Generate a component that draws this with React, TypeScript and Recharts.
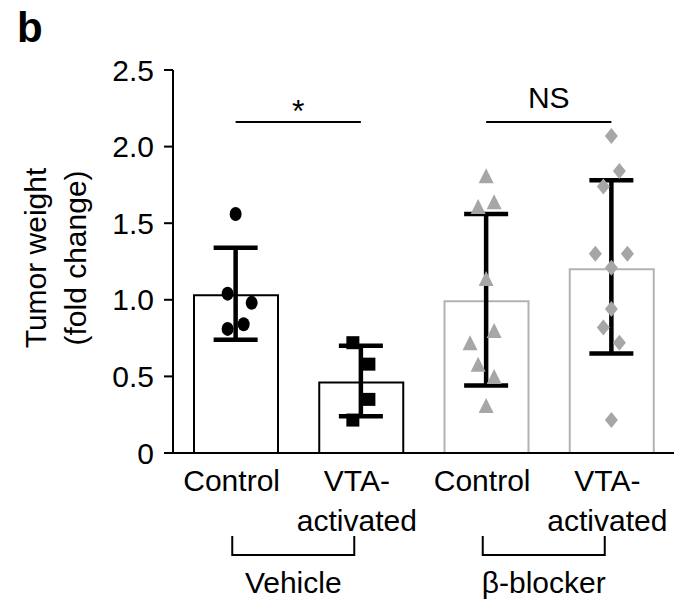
import { Bar, Cell, ComposedChart, ErrorBar, ReferenceLine, Scatter, XAxis, YAxis } from "recharts";

const groupIds = ["veh-ctrl", "veh-vta", "bb-ctrl", "bb-vta"];
const tickLabels = [["Control"], ["VTA-", "activated"], ["Control"], ["VTA-", "activated"]];
const groupNames = ["Vehicle", "β-blocker"];
const groupTicks = [1.5, 3.5];
const means = [1.03, 0.46, 0.99, 1.2];
const errLow = [0.29, 0.22, 0.55, 0.55];
const errHigh = [0.31, 0.24, 0.57, 0.58];
const yTicks = [0, 0.5, 1, 1.5, 2, 2.5];

// individual animals, x = group position with jitter
const vehCtrlPts = [
  { x: 1.0, y: 1.56 },
  { x: 0.936, y: 1.04 },
  { x: 1.128, y: 0.98 },
  { x: 0.936, y: 0.81 },
  { x: 1.064, y: 0.84 },
];
const vehVtaPts = [
  { x: 1.936, y: 0.72 },
  { x: 2.064, y: 0.58 },
  { x: 2.064, y: 0.35 },
  { x: 1.936, y: 0.215 },
];
const bbCtrlPts = [
  { x: 3.0, y: 1.8 },
  { x: 3.064, y: 1.63 },
  { x: 2.936, y: 1.6 },
  { x: 3.0, y: 1.13 },
  { x: 3.064, y: 0.79 },
  { x: 2.872, y: 0.71 },
  { x: 2.936, y: 0.57 },
  { x: 3.064, y: 0.49 },
  { x: 3.0, y: 0.3 },
];
const bbVtaPts = [
  { x: 4.0, y: 2.07 },
  { x: 4.064, y: 1.84 },
  { x: 3.936, y: 1.74 },
  { x: 3.872, y: 1.3 },
  { x: 4.128, y: 1.3 },
  { x: 4.0, y: 1.21 },
  { x: 4.0, y: 0.94 },
  { x: 3.936, y: 0.82 },
  { x: 4.064, y: 0.72 },
  { x: 4.0, y: 0.215 },
];
const sigLevel = 2.16;

const font = "'Liberation Sans', Arial, Helvetica, sans-serif";
const gray = "#a6a6a6";
const barStroke = ["#000", "#000", "#b2b2b2", "#b2b2b2"];

const barRows = groupIds.map((id, i) => ({ id, mean: means[i] }));
const meanPts = means.map((m, i) => ({ x: i + 1, y: m, err: [errLow[i], errHigh[i]] }));

const circle = (p: any) => <ellipse cx={p.cx} cy={p.cy} rx={6} ry={7} fill="#000" />;
const square = (p: any) => <rect x={p.cx - 6.5} y={p.cy - 6.5} width={13} height={13} fill="#000" />;
const triangle = (p: any) => (
  <polygon points={`${p.cx},${p.cy - 9} ${p.cx + 7.5},${p.cy + 6} ${p.cx - 7.5},${p.cy + 6}`} fill={gray} />
);
const diamond = (p: any) => (
  <polygon points={`${p.cx},${p.cy - 8} ${p.cx + 6.5},${p.cy} ${p.cx},${p.cy + 8} ${p.cx - 6.5},${p.cy}`} fill={gray} />
);

function CatTick({ x, y, payload }: any) {
  const lines = tickLabels[payload.index] || [];
  return (
    <text x={x - 4} y={y} textAnchor="middle" fontSize={30} fontFamily={font} fill="#000">
      {lines.map((l, i) => (
        <tspan key={i} x={x - 4} dy={i === 0 ? 38 : 40}>
          {l}
        </tspan>
      ))}
    </text>
  );
}

function GroupTick({ x, y, payload }: any) {
  const name = groupNames[payload.index];
  const cx = x - 5;
  return (
    <g>
      <path d={`M${cx - 61},${y + 3} V${y + 22} H${cx + 61} V${y + 3}`} fill="none" stroke="#000" strokeWidth={2} />
      <text x={cx} y={y + 60} textAnchor="middle" fontSize={30} fontFamily={font} fill="#000">
        {name}
      </text>
    </g>
  );
}

export default function App() {
  return (
    <div style={{ position: "absolute", left: 0, top: 0, width: 684, height: 600, background: "#fff" }}>
      <ComposedChart
        width={684}
        height={600}
        data={barRows}
        margin={{ top: 70, right: 10, left: 113, bottom: 0 }}
        style={{ fontFamily: font }}
      >
        <XAxis
          xAxisId="cat"
          dataKey="id"
          type="category"
          height={80}
          tickLine={false}
          tickSize={0}
          tickMargin={0}
          axisLine={{ stroke: "#000", strokeWidth: 2 }}
          tick={<CatTick />}
          interval={0}
        />
        <XAxis
          xAxisId="grp"
          dataKey="x"
          type="number"
          domain={[0.5, 4.5]}
          allowDataOverflow
          ticks={groupTicks}
          height={67}
          axisLine={false}
          tickLine={false}
          tickSize={0}
          tickMargin={0}
          tick={<GroupTick />}
          interval={0}
        />
        <YAxis
          domain={[0, 2.5]}
          ticks={yTicks}
          width={60}
          tickSize={9}
          tickMargin={10}
          tickFormatter={(v: number) => (v === 0 ? "0" : v.toFixed(1))}
          axisLine={{ stroke: "#000", strokeWidth: 2 }}
          tickLine={{ stroke: "#000", strokeWidth: 2 }}
          tick={{ fill: "#000", fontSize: 30, fontFamily: font }}
        />
        <Bar xAxisId="cat" dataKey="mean" barSize={84} fill="#fff" strokeWidth={2} isAnimationActive={false}>
          {barRows.map((r, i) => (
            <Cell key={r.id} stroke={barStroke[i]} />
          ))}
        </Bar>
        <Scatter xAxisId="grp" data={vehCtrlPts} dataKey="y" shape={circle} isAnimationActive={false} />
        <Scatter xAxisId="grp" data={vehVtaPts} dataKey="y" shape={square} isAnimationActive={false} />
        <Scatter xAxisId="grp" data={bbCtrlPts} dataKey="y" shape={triangle} isAnimationActive={false} />
        <Scatter xAxisId="grp" data={bbVtaPts} dataKey="y" shape={diamond} isAnimationActive={false} />
        <Scatter xAxisId="grp" data={meanPts} dataKey="y" shape={() => <g />} isAnimationActive={false}>
          <ErrorBar dataKey="err" direction="y" width={22} stroke="#000" strokeWidth={4.5} isAnimationActive={false} />
        </Scatter>
        <ReferenceLine
          xAxisId="grp"
          segment={[
            { x: 1, y: sigLevel },
            { x: 2, y: sigLevel },
          ]}
          stroke="#000"
          strokeWidth={2}
          label={{ value: "*", position: "top", offset: 0, fontSize: 32, fill: "#000", fontFamily: font }}
        />
        <ReferenceLine
          xAxisId="grp"
          segment={[
            { x: 3, y: sigLevel },
            { x: 4, y: sigLevel },
          ]}
          stroke="#000"
          strokeWidth={2}
          label={{ value: "NS", position: "top", offset: 14, fontSize: 30, fill: "#000", fontFamily: font }}
        />
      </ComposedChart>
      <svg width={684} height={600} style={{ position: "absolute", left: 0, top: 0, pointerEvents: "none" }}>
        <text x={17} y={42} fontSize={42} fontWeight="bold" fontFamily={font} fill="#000">
          b
        </text>
        <text transform="rotate(-90 46 258)" x={46} y={258} textAnchor="middle" fontSize={30} fontFamily={font} fill="#000">
          <tspan x={46} dy={0}>
            Tumor weight
          </tspan>
          <tspan x={46} dy={40}>
            (fold change)
          </tspan>
        </text>
      </svg>
    </div>
  );
}
